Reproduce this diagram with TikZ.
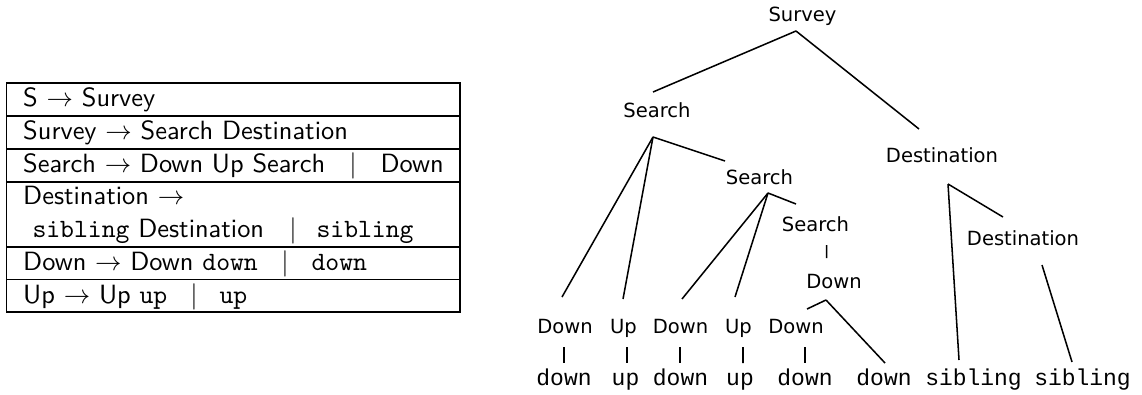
\documentclass[tikz,border=0pt]{standalone}
\usepackage{fontspec}
\newfontfamily\treefont{DejaVu Sans}
\newfontfamily\treemono{Liberation Mono}
\usetikzlibrary{calc}
\tikzset{
  tl/.style={font={\treefont\fontsize{7.4}{9}\selectfont}, inner sep=0pt, anchor=base},
  tm/.style={font={\treemono\fontsize{8.7}{10}\selectfont}, inner sep=0pt, anchor=base},
  edge/.style={line width=0.58pt},
  tab/.style={font={\sffamily\fontsize{10}{12}\selectfont}, inner sep=0pt, anchor=base west},
  bar/.style={font={\sffamily\fontsize{10}{12}\selectfont}, inner sep=0pt, anchor=base},
  rule/.style={line width=0.45pt}
}
\begin{document}
\begin{tikzpicture}[x=0.3788pt,y=-0.3788pt]
\useasboundingbox (0,0) rectangle (1142,394);
% ---------- table ----------
\draw[rule] (6.3,83) rectangle (460,312);
\foreach \yy in {116,149,182,247,279.5}{\draw[rule] (6.3,\yy) -- (460,\yy);}
\node[tab] (r1) at (22.7,106.2) {S $\rightarrow$ Survey};
\node[tab] (r2) at (22.7,139.2) {Survey $\rightarrow$ Search Destination};
\node[tab] (r3) at (22.7,172.2) {Search $\rightarrow$ Down Up Search};
\node[bar] (b3) at (353,172.2) {$|$};
\node[tab] (a3) at (380,172.2) {Down};
\node[tab] (r4) at (22.7,204.5) {Destination $\rightarrow$};
\node[tab] (r4b) at (32,237.5) {\texttt{sibling} Destination};
\node[bar] (b4) at (293,237.5) {$|$};
\node[tab] (a4) at (316,237.5) {\texttt{sibling}};
\node[tab] (r5) at (22.7,270.2) {Down $\rightarrow$ Down \texttt{down}};
\node[bar] (b5) at (285,270.2) {$|$};
\node[tab] (a5) at (311,270.2) {\texttt{down}};
\node[tab] (r6) at (22.7,303) {Up $\rightarrow$ Up \texttt{up}};
\node[bar] (b6) at (194,303) {$|$};
\node[tab] (a6) at (219,303) {\texttt{up}};
% ---------- tree ----------
\node[tl] (survey) at (802.5,21) {Survey};
\node[tl] (search1) at (657,117) {Search};
\node[tl] (search2) at (759.5,184) {Search};
\node[tl] (search3) at (815.5,231) {Search};
\node[tl] (down0) at (834,288) {Down};
\node[tl] (dest1) at (942,162) {Destination};
\node[tl] (dest2) at (1023,245) {Destination};
\node[tl] (d1) at (565,333) {Down};
\node[tl] (u1) at (623.5,333) {Up};
\node[tl] (d2) at (680.5,333) {Down};
\node[tl] (u2) at (738.5,333) {Up};
\node[tl] (d3) at (796,333) {Down};
\node[tm] (m1) at (564,385) {down};
\node[tm] (m2) at (625.5,385) {up};
\node[tm] (m3) at (680.5,385) {down};
\node[tm] (m4) at (740,385) {up};
\node[tm] (m5) at (805,385) {down};
\node[tm] (m6) at (884,385) {down};
\node[tm] (m7) at (973.5,385) {sibling};
\node[tm] (m8) at (1082.5,385) {sibling};
% edges
\draw[edge] ($(survey.base)+(-6.5,10)$) -- ($(search1.base)+(-4,-25)$);
\draw[edge] ($(survey.base)+(-6.5,10)$) -- ($(dest1.base)+(-23,-33)$);
\draw[edge] ($(search1.base)+(-4,20)$) -- ($(d1.base)+(-3,-36)$);
\draw[edge] ($(search1.base)+(-4,20)$) -- ($(u1.base)+(-0.5,-34)$);
\draw[edge] ($(search1.base)+(-4,20)$) -- ($(search2.base)+(-34.5,-23)$);
\draw[edge] ($(search2.base)+(8.5,9)$) -- ($(d2.base)+(1.5,-34)$);
\draw[edge] ($(search2.base)+(8.5,9)$) -- ($(u2.base)+(-3.5,-36)$);
\draw[edge] ($(search2.base)+(8.5,9)$) -- ($(search3.base)+(-19.5,-27)$);
\draw[edge] ($(search3.base)+(11.2,14)$) -- ($(down0.base)+(-7.3,-30)$);
\draw[edge] ($(down0.base)+(-8,12)$) -- ($(d3.base)+(11,-24)$);
\draw[edge] ($(down0.base)+(-8,12)$) -- ($(m6.base)+(1,-22)$);
\draw[edge] ($(dest1.base)+(6,22)$) -- ($(m7.base)+(-14.5,-25)$);
\draw[edge] ($(dest1.base)+(6,22)$) -- ($(dest2.base)+(-20,-28)$);
\draw[edge] ($(dest2.base)+(19,20)$) -- ($(m8.base)+(-10.5,-23)$);
% ticks
\draw[edge] ($(d1.base)+(-1,14)$) -- ($(m1.base)+(0,-22)$);
\draw[edge] ($(u1.base)+(3.5,14)$) -- ($(m2.base)+(1.5,-22)$);
\draw[edge] ($(d2.base)+(-0.5,14)$) -- ($(m3.base)+(-0.5,-22)$);
\draw[edge] ($(u2.base)+(4.5,14)$) -- ($(m4.base)+(3,-22)$);
\draw[edge] ($(d3.base)+(9,14)$) -- ($(m5.base)+(0,-22)$);
\end{tikzpicture}
\end{document}
